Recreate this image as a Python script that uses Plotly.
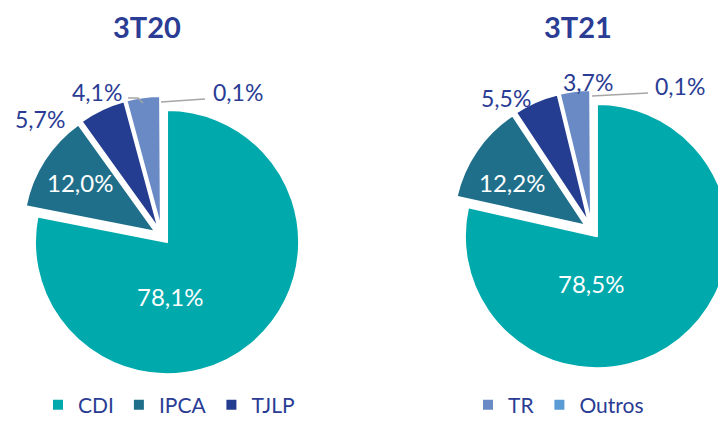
import plotly.graph_objects as go

# ---- data ----
categories = ["CDI", "IPCA", "TJLP", "TR", "Outros"]
values_3t20 = [78.1, 12.0, 5.7, 4.1, 0.1]
values_3t21 = [78.5, 12.2, 5.5, 3.7, 0.1]
titles = ["3T20", "3T21"]
legend_left = ["CDI", "IPCA", "TJLP"]
legend_right = ["TR", "Outros"]

# ---- styles ----
colors = ["#00A9AC", "#1F6F8B", "#253D91", "#6A8AC6", "#5A9BD6"]
text_blue = "#2A3C94"
font_family = "Lato, 'Open Sans', sans-serif"
W, H = 740, 421


def px(x):
    return x / W


def py(y):
    return 1 - y / H


fig = go.Figure()

R_BOX = 140  # half size of each pie box (radius * (1 + pull))
pie_centres = [(162, 236), (592, 230)]
pie_domains = [
    dict(x=[px(cx - R_BOX), px(cx + R_BOX)], y=[py(cy + R_BOX), py(cy - R_BOX)])
    for cx, cy in pie_centres
]

for vals, dom in zip([values_3t20, values_3t21], pie_domains):
    fig.add_trace(go.Pie(
        labels=categories, values=vals, sort=False, direction="clockwise",
        rotation=0, pull=0.06, textinfo="none", hoverinfo="label+percent",
        marker=dict(colors=colors, line=dict(color="white", width=2)),
        domain=dom, showlegend=False,
    ))

for i, cat in enumerate(categories):
    fig.add_trace(go.Scatter(
        x=[None], y=[None], mode="markers", name=cat,
        marker=dict(symbol="square", size=10, color=colors[i]),
        legend="legend" if cat in legend_left else "legend2",
        showlegend=True,
    ))

label_pos_20 = [(170, 296), (80, 182), (40, 119), (97, 92), (238, 92)]
label_pos_21 = [(591, 283), (512, 182), (506, 98), (588, 82), (680, 86)]
inside = [True, True, False, False, False]


def fmt(v):
    return f"{v:.1f}%".replace(".", ",")


for vals, poss in [(values_3t20, label_pos_20), (values_3t21, label_pos_21)]:
    for v, (x, y), ins in zip(vals, poss, inside):
        fig.add_annotation(
            x=px(x), y=py(y), xref="paper", yref="paper", text=fmt(v),
            showarrow=False, xanchor="center", yanchor="middle",
            font=dict(family=font_family, size=24 if ins else 23,
                      color="white" if ins else text_blue),
        )

for t, (x, y) in zip(titles, [(147, 27), (578, 27)]):
    fig.add_annotation(
        x=px(x), y=py(y), xref="paper", yref="paper", text=f"<b>{t}</b>",
        showarrow=False, xanchor="center", yanchor="middle",
        font=dict(family=font_family, size=29, color=text_blue),
    )

leader = dict(color="#A6A6A6", width=1.5)
leader_paths = [
    [(128, 98), (138, 98), (143, 103)],
    [(161, 102), (205, 99)],
    [(592, 96), (648, 93)],
]
for pts in leader_paths:
    d = "M " + " L ".join(f"{px(x)},{py(y)}" for x, y in pts)
    fig.add_shape(type="path", path=d, xref="paper", yref="paper", line=leader)

fig.update_layout(
    width=W, height=H, margin=dict(l=0, r=0, t=0, b=0, autoexpand=False),
    paper_bgcolor="white", plot_bgcolor="white",
    xaxis=dict(visible=False), yaxis=dict(visible=False),
    legend=dict(orientation="h", x=px(38), y=py(405), xanchor="left", yanchor="middle",
                font=dict(family=font_family, size=21, color=text_blue),
                itemwidth=30, bgcolor="rgba(0,0,0,0)"),
    legend2=dict(orientation="h", x=px(468), y=py(405), xanchor="left", yanchor="middle",
                 font=dict(family=font_family, size=21, color=text_blue),
                 itemwidth=30, bgcolor="rgba(0,0,0,0)"),
)

fig.write_html("out.html", config={"displayModeBar": False},
               post_script="document.documentElement.style.overflow='hidden';"
                           "document.body.style.margin='0';document.body.style.overflow='hidden';")
